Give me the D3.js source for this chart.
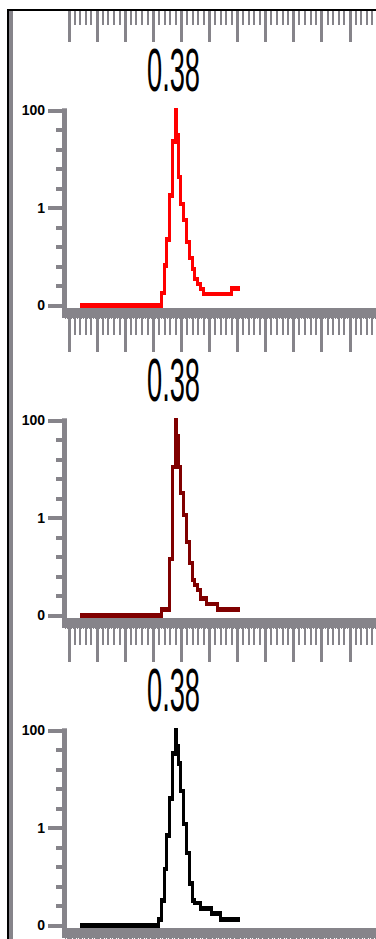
<!DOCTYPE html>
<html>
<head>
<meta charset="utf-8">
<script src="https://cdn.jsdelivr.net/npm/d3@7"></script>
<style>
  html, body { margin: 0; padding: 0; background: #fff; }
  svg { display: block; }
</style>
</head>
<body>
<div id="chart"></div>
<script>
// values: [x, level] at each step change
const titles = ["0.38", "0.38", "0.38"];

const seriesRed = [[0.04, 0], [0.33, 6.3], [0.34, 20.4], [0.35, 33.7], [0.36, 56.3], [0.37, 84],
  [0.38, 100], [0.385, 87], [0.39, 65.8], [0.40, 52], [0.41, 43.7], [0.42, 32.5], [0.43, 24.3],
  [0.44, 18.6], [0.45, 13.5], [0.46, 10.9], [0.47, 8.4], [0.48, 5.7], [0.58, 8.6], [0.61, 8.6]];

const seriesMaroon = [[0.04, 0], [0.33, 3.1], [0.36, 28.9], [0.37, 76], [0.38, 100], [0.385, 92],
  [0.39, 76], [0.40, 62.7], [0.41, 51.4], [0.42, 37.6], [0.43, 26.8], [0.44, 18.1], [0.45, 15.5],
  [0.46, 13], [0.47, 8.6], [0.49, 5.8], [0.53, 3.1], [0.61, 3.1]];

const seriesBlack = [[0.04, 0], [0.32, 3.1], [0.33, 12.8], [0.34, 29], [0.35, 46], [0.36, 65],
  [0.37, 88], [0.38, 100], [0.385, 92], [0.39, 83], [0.40, 69], [0.41, 52], [0.42, 37],
  [0.43, 21.4], [0.44, 12.8], [0.45, 11.4], [0.47, 8.6], [0.51, 6], [0.54, 3.1], [0.61, 3.1]];

const yMajorTicks = [0, 50, 100];
const yTickLabels = ["0", "1", "100"];
const yMinorTicks = [10, 20, 30, 40, 60, 70, 80, 90];

const series = [seriesRed, seriesMaroon, seriesBlack];
const colors = ["#ff0000", "#800000", "#000000"];
const gray = "#86848a";

const svgWidth = 376;
const svgHeight = 939;
const panelStep = 310;

const svg = d3.select("#chart")
  .append("svg")
  .attr("width", svgWidth)
  .attr("height", svgHeight);

svg.append("defs").append("clipPath")
  .attr("id", "inner")
  .append("rect")
  .attr("x", 13)
  .attr("y", 11)
  .attr("width", svgWidth - 13)
  .attr("height", svgHeight - 11);

const chart = svg.append("g").attr("clip-path", "url(#inner)");

// shared x scale, 0.1 per major ruler tick
const x = d3.scaleLinear()
  .domain([0, 1.1])
  .range([68.5, 68.5 + 1.1 * 281]);

const majorX = x.ticks(11);
const minorX = x.ticks(55).filter(v => !majorX.some(m => Math.abs(m - v) < 1e-9));

// ruler under each panel (the first one belongs to a panel above the view)
function drawRuler(off) {
  const g = chart.append("g")
    .attr("transform", `translate(0, ${318 + off})`);

  g.append("rect")
    .attr("x", 65)
    .attr("y", -10)
    .attr("width", svgWidth - 65)
    .attr("height", 10)
    .attr("fill", gray);

  g.append("line")
    .attr("x1", 65).attr("x2", svgWidth)
    .attr("y1", 0.5).attr("y2", 0.5)
    .attr("stroke", gray)
    .attr("stroke-dasharray", "1 1");

  const minor = g.append("g")
    .call(d3.axisBottom(x).tickValues(minorX).tickSize(17).tickSizeOuter(0).tickFormat(""));
  minor.select(".domain").remove();
  minor.selectAll("line")
    .attr("stroke", gray)
    .attr("stroke-width", 2)
    .attr("shape-rendering", "crispEdges");

  const major = g.append("g")
    .call(d3.axisBottom(x).tickValues(majorX).tickSize(34).tickSizeOuter(0).tickFormat(""));
  major.select(".domain").remove();
  major.selectAll("line")
    .attr("stroke", gray)
    .attr("stroke-width", 3)
    .attr("shape-rendering", "crispEdges");
}

[-1, 0, 1, 2].forEach(i => drawRuler(i * panelStep));

series.forEach((data, i) => {
  const off = i * panelStep;

  const y = d3.scaleLinear()
    .domain([0, 100])
    .range([305.3 + off, 110.3 + off]);

  // title
  chart.append("text")
    .attr("transform", `translate(173.5, ${91 + off}) scale(0.447, 1)`)
    .attr("text-anchor", "middle")
    .attr("font-family", "Liberation Sans, Arial, sans-serif")
    .attr("font-size", 61)
    .attr("fill", "#000")
    .text(titles[i]);

  // y spine
  chart.append("rect")
    .attr("x", 62)
    .attr("y", y(100) - 2)
    .attr("width", 5)
    .attr("height", 318 + off - (y(100) - 2))
    .attr("fill", gray);

  const yMinor = chart.append("g")
    .attr("transform", "translate(62, 0)")
    .call(d3.axisLeft(y).tickValues(yMinorTicks).tickSize(6).tickSizeOuter(0).tickFormat(""));
  yMinor.select(".domain").remove();
  yMinor.selectAll("line")
    .attr("stroke", gray)
    .attr("stroke-width", 4)
    .attr("shape-rendering", "crispEdges");

  const yMajor = chart.append("g")
    .attr("transform", "translate(62, 0)")
    .call(d3.axisLeft(y).tickValues(yMajorTicks).tickSize(14).tickSizeOuter(0).tickPadding(3)
      .tickFormat((d, k) => yTickLabels[k]));
  yMajor.select(".domain").remove();
  yMajor.selectAll("line")
    .attr("stroke", gray)
    .attr("stroke-width", 4)
    .attr("shape-rendering", "crispEdges");
  yMajor.selectAll("text")
    .attr("font-family", "Liberation Sans, Arial, sans-serif")
    .attr("font-weight", "bold")
    .attr("font-size", 14)
    .attr("fill", "#000");

  // the curve, drawn twice a little apart to give the thick flat steps
  const line = d3.line()
    .curve(d3.curveStepAfter)
    .x(d => x(d[0]))
    .y(d => y(d[1]));

  [-0.75, 0.75].forEach(dy => {
    chart.append("path")
      .datum(data)
      .attr("transform", `translate(0, ${dy})`)
      .attr("d", line)
      .attr("fill", "none")
      .attr("stroke", colors[i])
      .attr("stroke-width", 3)
      .attr("shape-rendering", "crispEdges");
  });
});

// frame on the top and left
svg.append("rect").attr("x", 7).attr("y", 9).attr("width", svgWidth - 7).attr("height", 2).attr("fill", "#000");
svg.append("rect").attr("x", 7).attr("y", 9).attr("width", 2).attr("height", svgHeight - 9).attr("fill", "#000");
svg.append("rect").attr("x", 9).attr("y", 11).attr("width", 4).attr("height", svgHeight - 11).attr("fill", gray);
</script>
</body>
</html>
